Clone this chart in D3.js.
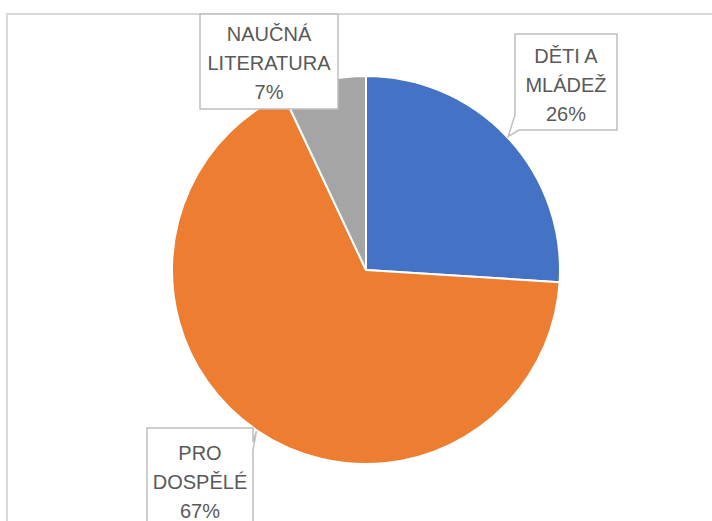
<!DOCTYPE html>
<html>
<head>
<meta charset="utf-8">
<script src="https://cdn.jsdelivr.net/npm/d3@7"></script>
<style>
  body { margin: 0; background: #fff; }
  text { font-family: "Liberation Sans Narrow", "Arial Narrow", "Liberation Sans", sans-serif; }
</style>
</head>
<body>
<div id="chart"></div>
<script>
var width = 712;
var height = 521;

// data
var categories = ["DĚTI A MLÁDEŽ", "PRO DOSPĚLÉ", "NAUČNÁ LITERATURA"];
var labelLines = [["DĚTI A", "MLÁDEŽ"], ["PRO", "DOSPĚLÉ"], ["NAUČNÁ", "LITERATURA"]];
var shares = [26, 67, 7];
var colors = ["#4472C4", "#ED7D31", "#A5A5A5"];

var cx = 366, cy = 270, radius = 194;

// label boxes and where the callout wedge sits
var boxes = [
  {x: 515, y: 34, w: 102, h: 96, wedge: "bottomleft", ty: 29},
  {x: 147, y: 428, w: 106, h: 110, wedge: "right", ty: 32},
  {x: 200, y: 14, w: 138, h: 95, wedge: "none", ty: 27}
];

var svg = d3.select("#chart").append("svg")
  .attr("width", width)
  .attr("height", height);

// chart area border
svg.append("rect")
  .attr("x", 7)
  .attr("y", 14)
  .attr("width", width + 20)
  .attr("height", height + 20)
  .attr("fill", "#fff")
  .attr("stroke", "#d9d9d9")
  .attr("stroke-width", 2);

var pie = d3.pie().sort(null).value(function(d){ return d; });
var arcs = pie(shares);
var arc = d3.arc().innerRadius(0).outerRadius(radius);

var g = svg.append("g").attr("transform", "translate(" + cx + "," + cy + ")");

g.selectAll("path")
  .data(arcs)
  .enter()
  .append("path")
  .attr("d", arc)
  .attr("fill", function(d, i){ return colors[i]; })
  .attr("stroke", "#fff")
  .attr("stroke-width", 2)
  .attr("stroke-linejoin", "round");

// callout labels
function calloutPath(b, tip) {
  var x0 = b.x, y0 = b.y, x1 = b.x + b.w, y1 = b.y + b.h;
  if (b.wedge == "bottomleft") {
    return "M" + x0 + "," + y0 + "H" + x1 + "V" + y1 + "H" + (x0 + 4) +
      "L" + tip[0] + "," + tip[1] + "L" + x0 + "," + (y1 - 15) + "Z";
  }
  if (b.wedge == "right") {
    return "M" + x0 + "," + y0 + "H" + x1 + "V" + (y0 + 14) +
      "L" + tip[0] + "," + tip[1] + "L" + x1 + "," + (y0 + 22) +
      "V" + y1 + "H" + x0 + "Z";
  }
  return "M" + x0 + "," + y0 + "H" + x1 + "V" + y1 + "H" + x0 + "Z";
}

var labels = svg.selectAll("g.label")
  .data(arcs)
  .enter()
  .append("g")
  .attr("class", "label");

labels.append("path")
  .attr("d", function(d, i){
    var a = (d.startAngle + d.endAngle) / 2;
    var tip = [cx + Math.sin(a) * (radius + 1), cy - Math.cos(a) * (radius + 1)];
    return calloutPath(boxes[i], tip);
  })
  .attr("fill", "#fff")
  .attr("stroke", "#bfbfbf")
  .attr("stroke-width", 1.5);

labels.each(function(d, i){
  var b = boxes[i];
  var lines = labelLines[i].concat([shares[i] + "%"]);
  var t = d3.select(this).append("text")
    .attr("text-anchor", "middle")
    .attr("fill", "#595959")
    .style("font-size", "20px");
  lines.forEach(function(s, k){
    t.append("tspan")
      .attr("x", b.x + b.w / 2)
      .attr("y", b.y + b.ty + k * 29)
      .text(s);
  });
});
</script>
</body>
</html>
